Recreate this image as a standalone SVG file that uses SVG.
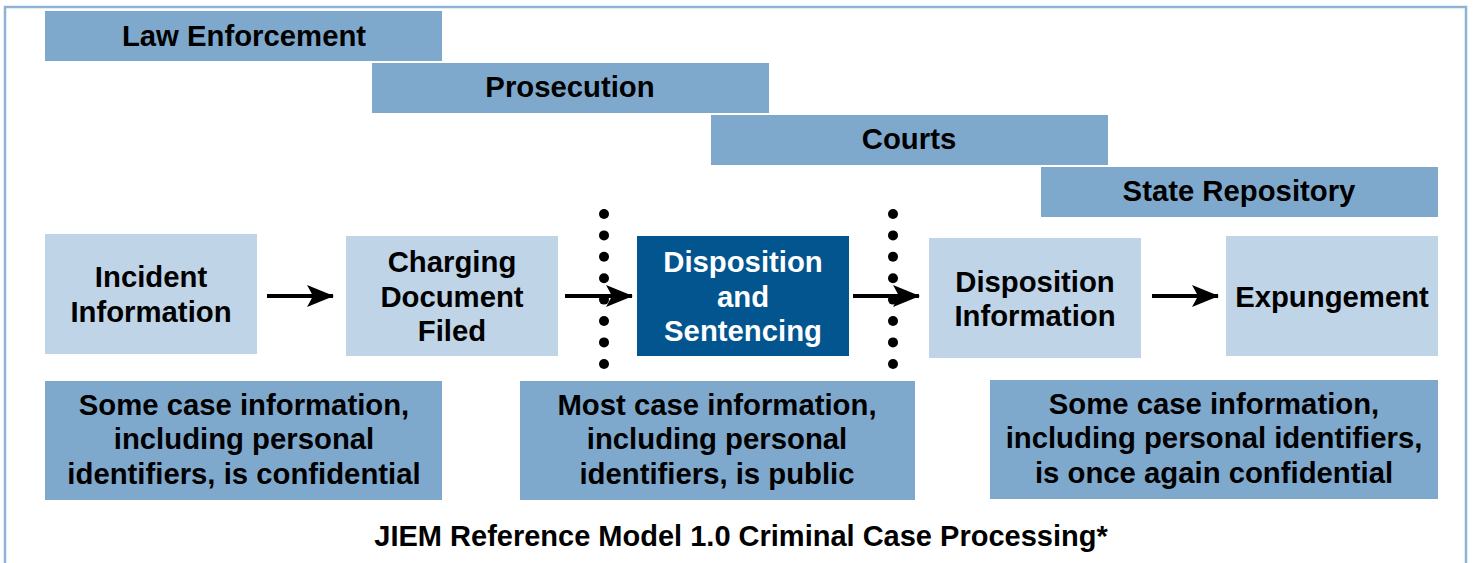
<svg xmlns="http://www.w3.org/2000/svg" width="1473" height="563" viewBox="0 0 1473 563">
<defs>
<style>
.band{fill:#7FA9CC}
.light{fill:#BFD4E6}
.dark{fill:#02558F}
.t{font-family:"Liberation Sans",Arial,sans-serif;font-weight:bold;font-size:29.3px;text-anchor:middle;fill:#000}
.w{fill:#fff}
.cap{font-size:29px}
.conn line{stroke:#000;stroke-width:4}
.dots circle{fill:#000}
</style>
<marker id="ah" markerWidth="30" markerHeight="24" refX="26" refY="11" orient="auto" markerUnits="userSpaceOnUse">
<path d="M0,0 L27,11 L0,22 L6,11 Z" fill="#000"/>
</marker>
</defs>
<rect x="0" y="0" width="1473" height="563" fill="#fff"/>
<rect x="5" y="7" width="1461" height="570" fill="none" stroke="#8DB3D6" stroke-width="2.5"/>

<g id="law-enforcement"><rect class="band" x="45" y="11" width="397" height="50"/><text class="t" x="244" y="46">Law Enforcement</text></g>
<g id="prosecution"><rect class="band" x="372" y="63" width="397" height="50"/><text class="t" x="570" y="97">Prosecution</text></g>
<g id="courts"><rect class="band" x="711" y="115" width="397" height="50"/><text class="t" x="909" y="149">Courts</text></g>
<g id="state-repository"><rect class="band" x="1041" y="167" width="397" height="50"/><text class="t" x="1239" y="201">State Repository</text></g>

<g id="incident"><rect class="light" x="45" y="234" width="212" height="120"/><text class="t" x="151" y="287">Incident</text><text class="t" x="151" y="322">Information</text></g>
<g id="charging"><rect class="light" x="346" y="236" width="212" height="120"/><text class="t" x="452" y="272">Charging</text><text class="t" x="452" y="307">Document</text><text class="t" x="452" y="341">Filed</text></g>
<g id="disposition-sentencing"><rect class="dark" x="637" y="236" width="212" height="120"/><text class="t w" x="743" y="272">Disposition</text><text class="t w" x="743" y="307">and</text><text class="t w" x="743" y="341">Sentencing</text></g>
<g id="disposition-information"><rect class="light" x="929" y="238" width="212" height="120"/><text class="t" x="1035" y="292">Disposition</text><text class="t" x="1035" y="326">Information</text></g>
<g id="expungement"><rect class="light" x="1226" y="236" width="212" height="120"/><text class="t" x="1332" y="307">Expungement</text></g>

<g id="note-left"><rect class="band" x="45" y="381" width="397" height="119"/><text class="t" x="244" y="415">Some case information,</text><text class="t" x="244" y="449">including personal</text><text class="t" x="244" y="484">identifiers, is confidential</text></g>
<g id="note-middle"><rect class="band" x="520" y="381" width="395" height="119"/><text class="t" x="717" y="415">Most case information,</text><text class="t" x="717" y="449">including personal</text><text class="t" x="717" y="484">identifiers, is public</text></g>
<g id="note-right"><rect class="band" x="990" y="380" width="448" height="119"/><text class="t" x="1214" y="414">Some case information,</text><text class="t" x="1214" y="448">including personal identifiers,</text><text class="t" x="1214" y="483">is once again confidential</text></g>

<g id="dividers" class="dots">
<circle cx="604" cy="214" r="5"/><circle cx="604" cy="235.4" r="5"/><circle cx="604" cy="256.8" r="5"/><circle cx="604" cy="278.2" r="5"/><circle cx="604" cy="299.6" r="5"/><circle cx="604" cy="321" r="5"/><circle cx="604" cy="342.4" r="5"/><circle cx="604" cy="364" r="5"/>
<circle cx="893" cy="214" r="5"/><circle cx="893" cy="235.4" r="5"/><circle cx="893" cy="256.8" r="5"/><circle cx="893" cy="278.2" r="5"/><circle cx="893" cy="299.6" r="5"/><circle cx="893" cy="321" r="5"/><circle cx="893" cy="342.4" r="5"/><circle cx="893" cy="364" r="5"/>
</g>

<g id="connectors" class="conn">
<line x1="267" y1="296" x2="333" y2="296" marker-end="url(#ah)"/>
<line x1="565" y1="296" x2="632" y2="296" marker-end="url(#ah)"/>
<line x1="853" y1="296" x2="919" y2="296" marker-end="url(#ah)"/>
<line x1="1152" y1="296" x2="1218" y2="296" marker-end="url(#ah)"/>
</g>

<g id="caption"><text class="t cap" x="741" y="546">JIEM Reference Model 1.0 Criminal Case Processing*</text></g>
</svg>
